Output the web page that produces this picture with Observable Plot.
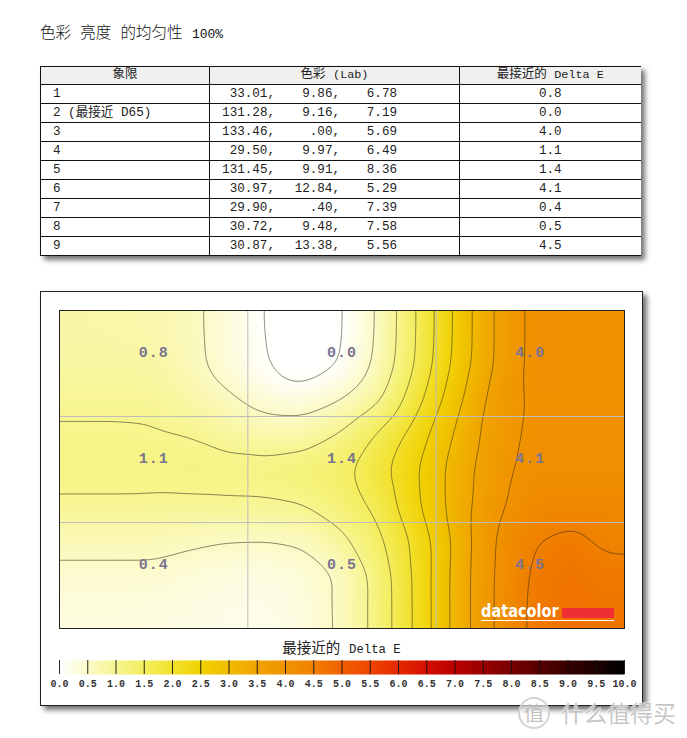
<!DOCTYPE html>
<html lang="zh">
<head>
<meta charset="utf-8">
<script src="https://cdn.jsdelivr.net/npm/d3@7"></script>
<script src="https://cdn.jsdelivr.net/npm/@observablehq/plot@0.6"></script>
<style>
  html, body { margin: 0; padding: 0; background: #fff; overflow: hidden; width: 687px; height: 738px; }
  body { position: relative; font-family: "Liberation Mono", "Noto Sans CJK SC", monospace; color: #222; }
  .abs { position: absolute; }
  #title { left: 40px; top: 23px; font: 300 15.5px/22px "Liberation Mono", "Noto Sans CJK SC"; white-space: pre; color: #111; }
  #title span { font-size: 13px; }
  #tbl { left: 40px; top: 66px; width: 600px; border-collapse: collapse; table-layout: fixed;
         box-shadow: 4px 4px 5px rgba(0,0,0,.55); font-size: 12.6px; background: #fff; }
  #tbl th, #tbl td { border: 1px solid #111; border-right: none; padding: 0; height: 18px; line-height: 18px; font-weight: normal; white-space: pre; overflow: hidden; }
  #tbl th { background: #f0f0f0; text-align: center; font-size: 12.5px; color: #222; height: 17px; line-height: 17px; }
  #tbl td.q { padding-left: 12px; }
  #tbl td.d { text-align: center; }
  #tbl td.v span { display: inline-block; text-align: right; }
  .lat { font-size: 11.8px; }
  #card { left: 40px; top: 291px; width: 601px; height: 413px; border: 1px solid #222; background: #fff;
          box-shadow: 4px 4px 5px rgba(0,0,0,.55); }
  #legendTitle { left: 40px; width: 603px; top: 639px; text-align: center; font-size: 14.5px; line-height: 20px; white-space: pre; }
  #legendTitle span { font-size: 12.3px; }
  #logoText { left: 481px; top: 600px; font: bold 17.3px/22px "DejaVu Sans"; color: #fff; transform: scaleX(.84); transform-origin: left center; }
  #logoRed { left: 562px; top: 608px; width: 52px; height: 10px; background: #ee3035; }
  #logoLine { left: 481px; top: 620px; width: 133px; height: 1px; background: #fff; }
  #wmCircle { left: 518px; top: 697px; width: 28px; height: 28px; border: 2px solid rgba(205,205,205,.85); border-radius: 50%;
              font: 20px/28px "Noto Sans CJK SC"; text-align: center; color: rgba(190,190,190,.95); background: rgba(255,255,255,.6); }
  #wmText { left: 561px; top: 695px; font: 23px/34px "Noto Sans CJK SC"; color: rgba(195,195,195,.95); letter-spacing: 0; white-space: pre;
            text-shadow: 0 0 2px #fff, 0 0 2px #fff; }
</style>
</head>
<body>
<script>
// --- Table values -----------------------------------------------------------
const quadrants = ["1", "2 (最接近 D65)", "3", "4", "5", "6", "7", "8", "9"];
const labL = ["33.01", "131.28", "133.46", "29.50", "131.45", "30.97", "29.90", "30.72", "30.87"];
const labA = ["9.86", "9.16", ".00", "9.97", "9.91", "12.84", ".40", "9.48", "13.38"];
const labB = ["6.78", "7.19", "5.69", "6.49", "8.36", "5.29", "7.39", "7.58", "5.56"];
const deltaE = ["0.8", "0.0", "4.0", "1.1", "1.4", "4.1", "0.4", "0.5", "4.5"];

// --- Delta E surface (15 columns, 9 rows) -------------------------------------
const fieldRow1 = [0.78, 0.76, 0.72, 0.60, 0.30, -0.02, -0.35, -0.03, 0.57, 1.53, 2.58, 3.50, 4.12, 4.08, 4.08];
const fieldRow2 = [0.82, 0.82, 0.80, 0.62, 0.30, 0.02, -0.35, 0.02, 0.62, 1.56, 2.62, 3.50, 4.12, 4.08, 4.08];
const fieldRow3 = [0.93, 0.93, 0.92, 0.78, 0.56, 0.33, 0.27, 0.47, 0.92, 1.82, 2.82, 3.65, 4.08, 4.08, 4.08];
const fieldRow4 = [1.04, 1.04, 1.03, 0.99, 0.85, 0.73, 0.75, 1.06, 1.57, 2.25, 3.05, 3.72, 4.10, 4.10, 4.10];
const fieldRow5 = [1.12, 1.12, 1.10, 1.13, 1.12, 1.15, 1.25, 1.38, 1.85, 2.48, 3.20, 3.80, 4.15, 4.12, 4.12];
const fieldRow6 = [0.95, 0.95, 0.95, 0.95, 0.97, 0.97, 1.02, 1.24, 1.66, 2.44, 3.20, 3.85, 4.25, 4.30, 4.28];
const fieldRow7 = [0.63, 0.63, 0.63, 0.56, 0.50, 0.49, 0.55, 0.90, 1.40, 2.15, 3.10, 3.98, 4.47, 4.60, 4.42];
const fieldRow8 = [0.40, 0.40, 0.40, 0.33, 0.27, 0.25, 0.34, 0.53, 1.20, 2.13, 3.15, 4.00, 4.55, 4.72, 4.62];
const fieldRow9 = [0.30, 0.30, 0.27, 0.24, 0.20, 0.18, 0.29, 0.56, 1.20, 2.12, 3.15, 4.00, 4.58, 4.74, 4.70];
const field = [fieldRow1, fieldRow2, fieldRow3, fieldRow4, fieldRow5, fieldRow6, fieldRow7, fieldRow8, fieldRow9];
const contourLevels = [0, 0.5, 1, 1.5, 2, 2.5, 3, 3.5, 4, 4.5];
const gridLines = [1, 2];

// --- Colour legend ----------------------------------------------------------
const legendTicks = [0, 0.5, 1, 1.5, 2, 2.5, 3, 3.5, 4, 4.5, 5, 5.5, 6, 6.5, 7, 7.5, 8, 8.5, 9, 9.5, 10];
const legendColors = ["#ffffff", "#fbfac6", "#f7f58e", "#f3ee5c", "#f2e02c", "#f1d200", "#f0bc00", "#f0a400",
                      "#f09400", "#f08000", "#f06000", "#ee4500", "#e62a00", "#d41000", "#bb0000", "#9a0000",
                      "#780000", "#580000", "#380000", "#1e0000", "#000000"];
const colorOptions = { type: "linear", domain: legendTicks, range: legendColors, clamp: true };

const mono = '"Liberation Mono", "Noto Sans CJK SC", monospace';

function add(html, id) {
  const el = document.createElement("div");
  el.className = "abs";
  el.id = id;
  el.innerHTML = html;
  document.body.appendChild(el);
  return el;
}

add('色彩 亮度 的均匀性 <span>100%</span>', "title");

// table
const rows = quadrants.map((q, i) =>
  `<tr><td class="q">${q}</td><td class="v"><span style="width:65px">${labL[i]},</span><span style="width:65px">${labA[i]},</span><span style="width:57px">${labB[i]}</span></td><td class="d">${deltaE[i]}</td></tr>`
).join("");
const tbl = document.createElement("table");
tbl.className = "abs";
tbl.id = "tbl";
tbl.innerHTML = `<colgroup><col style="width:169px"><col style="width:250px"><col style="width:181px"></colgroup>
  <tr><th>象限</th><th>色彩 <span class="lat">(Lab)</span></th><th>最接近的 <span class="lat">Delta E</span></th></tr>${rows}`;
document.body.appendChild(tbl);

add("", "card");

// heat map: sample points at their places in the 3×3 quadrant frame; the edge samples
// repeat just outside the frame so the library's interpolation covers the whole frame
const nCols = field[0].length, nRows = field.length;
const samples = [];
for (let j = -1; j <= nRows; ++j) {
  for (let i = -1; i <= nCols; ++i) {
    const v = field[Math.min(nRows - 1, Math.max(0, j))][Math.min(nCols - 1, Math.max(0, i))];
    samples.push({ x: (i + 0.5) * 3 / nCols, y: (j + 0.5) * 3 / nRows, v });
  }
}
const surface = { x: "x", y: "y", interpolate: "barycentric", blur: 9, clip: true,
                  x1: -0.1, x2: 3.1, y1: -1 / 6, y2: 3 + 1 / 6 };
const cells = d3.cross(d3.range(3), d3.range(3), (r, c) => ({ r, c, label: deltaE[r * 3 + c] }));

const map = Plot.plot({
  width: 567, height: 320,
  marginTop: 1, marginLeft: 1, marginRight: 1, marginBottom: 1,
  x: { domain: [0, 3], axis: null },
  y: { domain: [0, 3], reverse: true, axis: null },
  color: colorOptions,
  style: { position: "absolute", left: "58px", top: "309px", background: "transparent", overflow: "visible", letterSpacing: "1px" },
  marks: [
    Plot.raster(samples, { ...surface, fill: "v", pixelSize: 1 }),
    Plot.contour(samples, { ...surface, value: "v", pixelSize: 1,
                            thresholds: contourLevels, fill: "none", stroke: "#2a2418", strokeOpacity: 0.55, strokeWidth: 1 }),
    Plot.ruleX(gridLines, { stroke: "#bdbdbd", strokeWidth: 1 }),
    Plot.ruleY(gridLines, { stroke: "#bdbdbd", strokeWidth: 1 }),
    Plot.text(cells, { x: d => d.c + 0.5, y: d => d.r + 0.5, text: "label", dy: -11,
                       fontFamily: mono, fontWeight: "bold", fontSize: 15, fill: "#7a7490" }),
    Plot.frame({ stroke: "#222", strokeWidth: 1 })
  ]
});
document.body.appendChild(map);

add("datacolor", "logoText");
add("", "logoRed");
add("", "logoLine");

add('最接近的 <span>Delta E</span>', "legendTitle");

// legend
const ramp = d3.range(0, 10.001, 0.05);
const legend = Plot.plot({
  width: 605, height: 37,
  marginTop: 5, marginBottom: 18, marginLeft: 20, marginRight: 20,
  x: { domain: [0, 10], axis: null },
  y: { domain: [0, 1], axis: null },
  color: colorOptions,
  style: { position: "absolute", left: "39px", top: "655px", background: "transparent" },
  marks: [
    Plot.raster(ramp, { width: ramp.length, height: 1, x1: 0, x2: 10, y1: 0, y2: 1, fill: Plot.identity }),
    Plot.ruleX(legendTicks, { stroke: "#111", strokeWidth: 1, strokeOpacity: 0.9 }),
    Plot.axisX(legendTicks, { ticks: legendTicks, tickSize: 0, tickPadding: 5, tickFormat: d3.format(".1f"),
                 fontFamily: mono, fontWeight: "bold", fontSize: 10, fill: "#333", anchor: "bottom" })
  ]
});
document.body.appendChild(legend);

// watermark
add("值", "wmCircle");
add("什么值得买", "wmText");
</script>
</body>
</html>
